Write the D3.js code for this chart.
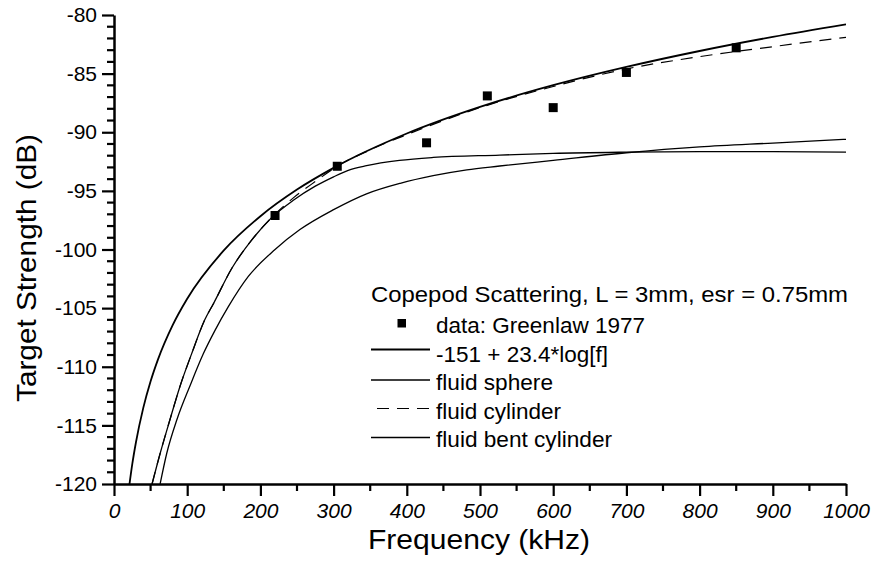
<!DOCTYPE html>
<html><head><meta charset="utf-8">
<script src="https://cdn.jsdelivr.net/npm/d3@7"></script>
<style>
body{margin:0;background:#fff;}
svg{display:block;font-family:Arial,"Liberation Sans",Helvetica,sans-serif;}
</style></head>
<body><svg id="c" width="875" height="562"></svg>
<script>
// ---- data ----
const freqTicks = [0,100,200,300,400,500,600,700,800,900,1000];
const freqMinor = [50,150,250,350,450,550,650,750,850,950];
const tsTicks = [-120,-115,-110,-105,-100,-95,-90,-85,-80];
const tsMinor = [-119,-118,-117,-116,-114,-113,-112,-111,-109,-108,-107,-106,-104,-103,-102,-101,-99,-98,-97,-96,-94,-93,-92,-91,-89,-88,-87,-86,-84,-83,-82,-81];

const dataFreq = [220, 305, 427, 510, 600, 700, 850];
const dataTS   = [-97.1, -92.9, -90.9, -86.9, -87.9, -84.9, -82.8];

const regFreq = [20,25,30,40,50,60,80,100,150,200,250,300,400,500,600,700,800,900,1000];
const regTS   = [-120.56,-118.29,-116.44,-113.51,-111.24,-109.39,-106.47,-104.2,-100.08,-97.16,-94.89,-93.04,-90.11,-87.84,-85.99,-84.43,-83.07,-81.87,-80.8];

const sphFreq = [52, 63, 76.5, 90, 106, 124, 136, 161, 188, 215, 245, 275, 300, 320, 345, 390, 436, 527, 600, 700, 800, 900, 1000];
const sphTS   = [-120, -117.4, -114.5, -111.7, -108.9, -106.0, -104.6, -101.6, -99.2, -97.3, -95.8, -94.6, -93.8, -93.25, -92.85, -92.4, -92.15, -91.95, -91.8, -91.7, -91.65, -91.65, -91.7];

const cylFreq = [52, 63, 76.5, 90, 106, 124, 136, 161, 188, 215, 245, 275, 305, 350, 400, 450, 500, 600, 700, 800, 900, 1000];
const cylTS   = [-120, -117.4, -114.5, -111.7, -108.9, -106.0, -104.6, -101.6, -99.2, -97.3, -95.6, -94.2, -92.9, -91.5, -90.2, -89.0, -87.9, -86.1, -84.6, -83.55, -82.7, -81.9];

const bentFreq = [63, 72, 86, 104, 122, 138, 156, 183.5, 220, 254, 300, 345, 391, 436, 482, 527, 600, 700, 800, 900, 1000];
const bentTS   = [-120, -117.4, -114.5, -111.6, -108.9, -106.9, -104.9, -102.3, -100.0, -98.3, -96.6, -95.25, -94.35, -93.7, -93.2, -92.88, -92.4, -91.75, -91.25, -90.92, -90.6];

const legendTitle = "Copepod Scattering, L = 3mm, esr = 0.75mm";
const legendLabels = ["data: Greenlaw 1977", "-151 + 23.4*log[f]", "fluid sphere", "fluid cylinder", "fluid bent cylinder"];

// ---- drawing ----
const svg = d3.select("#c");
const x = d3.scaleLinear().domain([0,1000]).range([114,846]);
const y = d3.scaleLinear().domain([-120,-80]).range([484,15]);

svg.append("defs").append("clipPath").attr("id","clip")
  .append("rect").attr("x",114).attr("y",15).attr("width",732).attr("height",469);

const line = d3.line().x(d=>x(d[0])).y(d=>y(d[1])).curve(d3.curveMonotoneX);
const zip = (a,b)=>a.map((v,i)=>[v,b[i]]);

const g = svg.append("g").attr("clip-path","url(#clip)");
g.append("path").datum(zip(bentFreq,bentTS)).attr("d",line)
  .attr("fill","none").attr("stroke","#000").attr("stroke-width",1.3);
g.append("path").datum(zip(sphFreq,sphTS)).attr("d",line)
  .attr("fill","none").attr("stroke","#000").attr("stroke-width",1.3);
g.append("path").datum(zip(cylFreq,cylTS)).attr("d",line)
  .attr("fill","none").attr("stroke","#000").attr("stroke-width",1.2).attr("stroke-dasharray","12,8");
g.append("path").datum(zip(regFreq,regTS)).attr("d",line)
  .attr("fill","none").attr("stroke","#000").attr("stroke-width",1.8);

svg.append("g").selectAll("rect").data(zip(dataFreq,dataTS)).join("rect")
  .attr("x",d=>x(d[0])-4.5).attr("y",d=>y(d[1])-4.5)
  .attr("width",9).attr("height",9).attr("fill","#000");

// axes
const fmt = d => String(d);
const yAxis = svg.append("g").attr("transform","translate(114,0)")
  .call(d3.axisLeft(y).tickValues(tsTicks).tickFormat(fmt).tickSize(12).tickSizeOuter(0).tickPadding(5));
const xAxis = svg.append("g").attr("transform","translate(0,484)")
  .call(d3.axisBottom(x).tickValues(freqTicks).tickFormat(fmt).tickSize(12).tickSizeOuter(0).tickPadding(7));

// minor ticks
svg.append("g").selectAll("line").data(tsMinor).join("line")
  .attr("x1",107).attr("x2",114).attr("y1",d=>y(d)).attr("y2",d=>y(d))
  .attr("stroke","#000").attr("stroke-width",2.2);
svg.append("g").selectAll("line").data(freqMinor).join("line")
  .attr("y1",484).attr("y2",491).attr("x1",d=>x(d)).attr("x2",d=>x(d))
  .attr("stroke","#000").attr("stroke-width",2.2);

svg.selectAll(".domain").attr("stroke","#000").attr("stroke-width",2.5);
svg.selectAll(".tick line").attr("stroke","#000").attr("stroke-width",2.2);
yAxis.selectAll("text").attr("font-size",21).attr("fill","#000")
  .attr("font-family","Arial, 'Liberation Sans', sans-serif");
xAxis.selectAll("text").attr("font-size",21).attr("fill","#000").attr("font-style","italic")
  .attr("font-family","Arial, 'Liberation Sans', sans-serif");

// axis titles
svg.append("text").attr("transform","translate(36,268) rotate(-90)")
  .attr("text-anchor","middle").attr("font-size",28).attr("fill","#000")
  .attr("textLength",268).attr("lengthAdjust","spacingAndGlyphs")
  .text("Target Strength (dB)");
svg.append("text").attr("x",479).attr("y",549)
  .attr("text-anchor","middle").attr("font-size",28).attr("fill","#000")
  .attr("textLength",222).attr("lengthAdjust","spacingAndGlyphs")
  .text("Frequency (kHz)");

// legend
const lg = svg.append("g");
lg.append("text").attr("x",371).attr("y",301.5).attr("font-size",22).attr("fill","#000")
  .attr("textLength",477).attr("lengthAdjust","spacingAndGlyphs").text(legendTitle);
const baselines = [333, 361.5, 390, 418.5, 447];
const widths = [209, 172, 117, 125, 176];
legendLabels.forEach((t,i)=>{
  lg.append("text").attr("x",436).attr("y",baselines[i]).attr("font-size",22).attr("fill","#000")
    .attr("textLength",widths[i]).attr("lengthAdjust","spacingAndGlyphs").text(t);
});
lg.append("rect").attr("x",397.5).attr("y",319).attr("width",8.5).attr("height",8.5).attr("fill","#000");
const lineYs = [349.5, 380, 408.5, 437.5];
const styles = [{w:1.8,d:null},{w:1.3,d:null},{w:1.2,d:"12,8"},{w:1.3,d:null}];
lineYs.forEach((ly,i)=>{
  const l = lg.append("line").attr("x1",i===2?377:371).attr("x2",430).attr("y1",ly).attr("y2",ly)
    .attr("stroke","#000").attr("stroke-width",styles[i].w);
  if(styles[i].d) l.attr("stroke-dasharray",styles[i].d);
});
</script>
</body></html>
